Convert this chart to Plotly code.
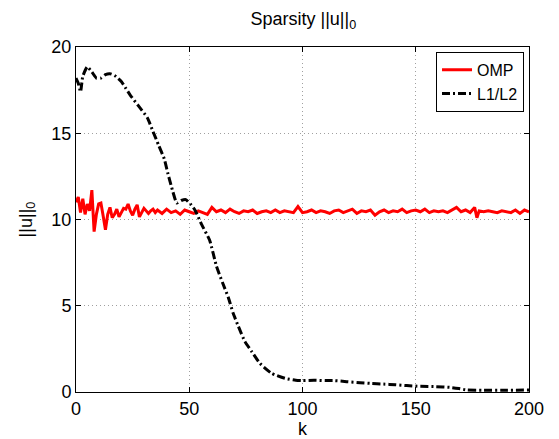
import plotly.graph_objects as go

# OMP sparsity per iteration
omp_k = list(range(0, 36)) + list(range(36, 177, 2)) + [177] + list(range(178, 201, 2))
omp_v = [11.0, 11.3, 10.4, 11.2, 10.3, 10.9, 10.5, 11.7, 9.3, 10.3,
         10.9, 10.95, 10.2, 9.4, 10.3, 10.7, 10.1, 10.3, 10.6, 10.15,
         10.4, 10.65, 10.6, 10.9, 10.5, 10.25, 10.6, 10.85, 10.15, 10.4,
         10.65, 10.5, 10.35, 10.5, 10.6, 10.4,
         10.55, 10.35, 10.6, 10.4, 10.5, 10.3, 10.55, 10.45, 10.35, 10.5,
         10.4, 10.3, 10.7, 10.45, 10.55, 10.4, 10.6, 10.45, 10.35, 10.5,
         10.45, 10.55, 10.35, 10.45, 10.5, 10.4, 10.55, 10.4, 10.5, 10.45,
         10.4, 10.75, 10.4, 10.45, 10.55, 10.4, 10.5, 10.45, 10.35, 10.5,
         10.55, 10.4, 10.5, 10.6, 10.35, 10.5, 10.45, 10.55, 10.25, 10.45,
         10.55, 10.4, 10.5, 10.45, 10.6, 10.4, 10.5, 10.55, 10.45, 10.6,
         10.4, 10.5, 10.45, 10.5, 10.4, 10.55, 10.7, 10.45, 10.55, 10.4,
         10.7,
         10.1,
         10.5, 10.45, 10.5, 10.45, 10.4, 10.5, 10.45, 10.4, 10.55, 10.35,
         10.55, 10.45]

# L1/L2 sparsity
l12_k = [0, 1, 2, 3, 5, 7, 9, 11, 13, 15, 17, 20, 22, 24, 27.5, 31.5, 34, 36.5,
         39, 40.5, 42.8, 44.5, 46.5, 48.5, 50.5, 52.5, 55.5, 59, 62, 64.8, 67.2,
         69.4, 71.7, 74.6, 77.6, 81.2, 86.4, 92.3, 97, 100, 105, 110, 114, 119.5,
         125.4, 130, 135.7, 141, 146, 152, 159, 165, 169, 172.5, 180, 190, 200]
l12_v = [18.2, 17.9, 17.4, 18.3, 18.85, 18.55, 18.2, 18.2, 18.4, 18.45, 18.35,
         18.0, 17.6, 17.2, 16.6, 15.9, 15.1, 14.3, 13.5, 12.7, 11.6, 10.95, 11.1,
         11.15, 10.9, 10.55, 9.7, 8.8, 7.3, 6.3, 5.5, 4.56, 3.8, 2.92, 2.34, 1.66,
         1.08, 0.79, 0.68, 0.66, 0.68, 0.66, 0.66, 0.6, 0.54, 0.5, 0.46, 0.42,
         0.37, 0.33, 0.31, 0.27, 0.2, 0.12, 0.1, 0.1, 0.12]

x_ticks = [0, 50, 100, 150, 200]
y_ticks = [0, 5, 10, 15, 20]

FONT = "Liberation Sans, Arial, Helvetica, sans-serif"

fig = go.Figure()
fig.add_trace(go.Scatter(x=omp_k, y=omp_v, mode="lines", name="OMP",
                         line=dict(color="#ff0000", width=3)))
fig.add_trace(go.Scatter(x=l12_k, y=l12_v, mode="lines", name="L1/L2",
                         line=dict(color="#000000", width=3, dash="8px,3px,2px,3px",
                                   shape="spline", smoothing=0.5)))

axis_common = dict(showline=True, linecolor="black", linewidth=1, mirror="ticks",
                   ticks="inside", ticklen=5, tickcolor="black", automargin=False,
                   showgrid=True, gridcolor="#a0a0a0", griddash="1px,3px", gridwidth=1,
                   zeroline=False, tickfont=dict(size=18, color="black", family=FONT))

fig.update_xaxes(range=[0, 200], tickvals=x_ticks,
                 title=dict(text="k", font=dict(size=18, color="black", family=FONT), standoff=3),
                 **axis_common)
fig.update_yaxes(range=[0, 20], tickvals=y_ticks,
                 title=dict(text="||u||<sub>0</sub>", font=dict(size=18, color="black", family=FONT), standoff=14),
                 **axis_common)

# the page body has an 8px margin; sizes and margins account for it
fig.update_layout(
    width=551, height=431,
    margin=dict(l=68, r=30, t=39, b=47),
    paper_bgcolor="white", plot_bgcolor="white",
    title=dict(text="Sparsity ||u||<sub>0</sub>", x=0.536, xanchor="center", y=0.99, yanchor="top",
               pad=dict(t=0, b=0), font=dict(size=18, color="black", family=FONT)),
    legend=dict(x=0.989, y=0.986, xanchor="right", yanchor="top",
                bordercolor="black", borderwidth=1, bgcolor="white",
                font=dict(size=16, color="black", family=FONT),
                tracegroupgap=0, itemwidth=30),
    showlegend=True,
)

fig.write_html("out.html")
